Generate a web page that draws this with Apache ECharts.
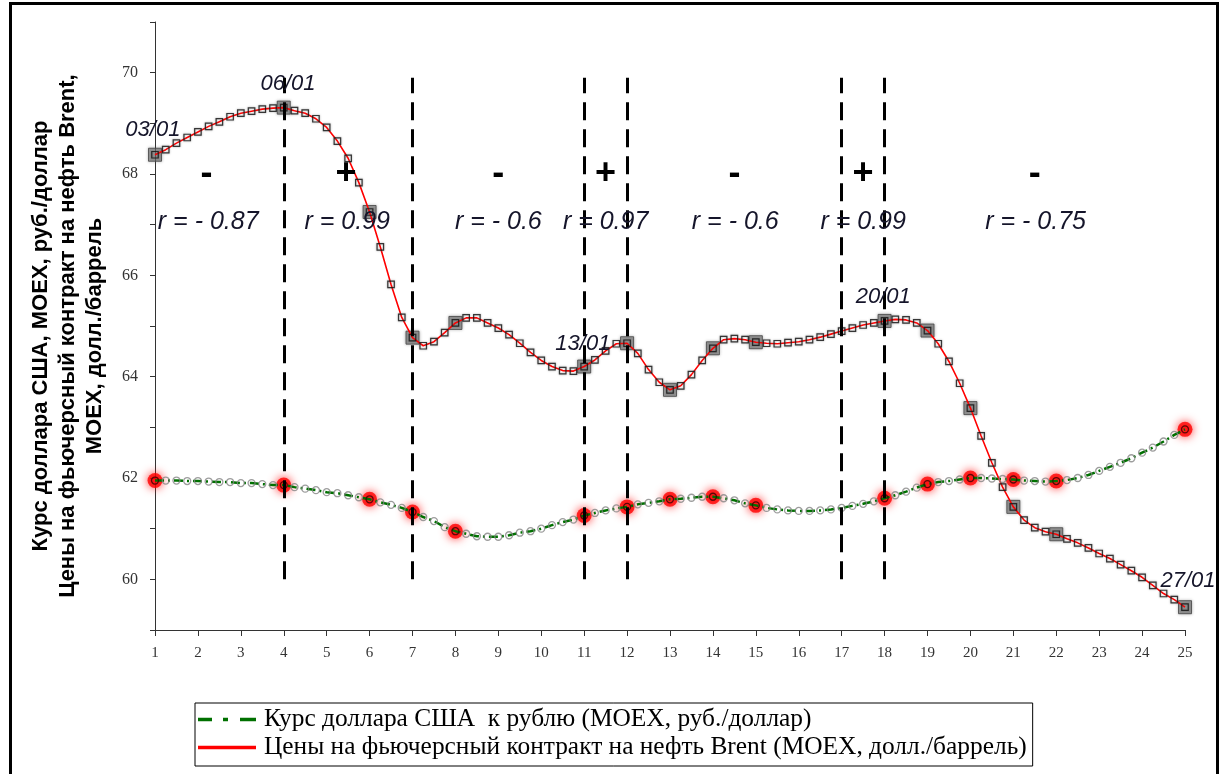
<!DOCTYPE html>
<html>
<head>
<meta charset="utf-8">
<script src="https://cdn.jsdelivr.net/npm/echarts@6/dist/echarts.min.js"></script>
<style>
html,body{margin:0;padding:0;background:#fff;}
#chart{width:1222px;height:774px;}
</style>
</head>
<body>
<div id="chart"></div>
<script>
// ---- data ----
// Brent futures price (MOEX, USD/barrel), sampled every quarter day from day 1 to day 25
const brentFine = [
  68.38, 68.48, 68.61, 68.72,   // 1
  68.83, 68.94, 69.03, 69.13,   // 2
  69.20, 69.24, 69.28, 69.30,   // 3
  69.31, 69.25, 69.20, 69.09,   // 4
  68.92, 68.65, 68.31, 67.83,   // 5
  67.25, 66.56, 65.82, 65.17,   // 6
  64.77, 64.61, 64.69, 64.87,   // 7
  65.06, 65.16, 65.16, 65.06,   // 8
  64.96, 64.83, 64.66, 64.48,   // 9
  64.32, 64.20, 64.12, 64.11,   // 10
  64.20, 64.33, 64.51, 64.65,   // 11
  64.66, 64.46, 64.14, 63.89,   // 12
  63.74, 63.82, 64.04, 64.32,   // 13
  64.56, 64.73, 64.75, 64.73,   // 14
  64.68, 64.66, 64.65, 64.67,   // 15
  64.69, 64.73, 64.78, 64.84,   // 16
  64.90, 64.96, 65.02, 65.06,   // 17
  65.10, 65.13, 65.12, 65.06,   // 18
  64.91, 64.65, 64.30, 63.87,   // 19
  63.38, 62.83, 62.30, 61.82,   // 20
  61.43, 61.17, 61.02, 60.94,   // 21
  60.89, 60.80, 60.72, 60.62,   // 22
  60.51, 60.41, 60.29, 60.17,   // 23
  60.04, 59.88, 59.72, 59.60,   // 24
  59.45                         // 25
];
// USD/RUB rate (MOEX, rub/USD), same sampling
const usdFine = [
  61.95, 61.95, 61.95, 61.94,   // 1
  61.94, 61.93, 61.92, 61.92,   // 2
  61.90, 61.90, 61.88, 61.86,   // 3
  61.86, 61.82, 61.79, 61.76,   // 4
  61.72, 61.70, 61.66, 61.62,   // 5
  61.58, 61.52, 61.47, 61.41,   // 6
  61.33, 61.23, 61.15, 61.03,   // 7
  60.95, 60.90, 60.85, 60.84,   // 8
  60.84, 60.87, 60.92, 60.95,   // 9
  61.00, 61.07, 61.13, 61.18,   // 10
  61.26, 61.31, 61.36, 61.40,   // 11
  61.43, 61.48, 61.51, 61.54,   // 12
  61.58, 61.59, 61.61, 61.63,   // 13
  61.63, 61.60, 61.56, 61.50,   // 14
  61.46, 61.41, 61.38, 61.36,   // 15
  61.35, 61.35, 61.36, 61.38,   // 16
  61.41, 61.45, 61.49, 61.54,   // 17
  61.60, 61.66, 61.73, 61.81,   // 18
  61.88, 61.92, 61.94, 61.97,   // 19
  62.00, 62.00, 61.99, 61.98,   // 20
  61.97, 61.95, 61.94, 61.93,   // 21
  61.94, 61.96, 62.00, 62.06,   // 22
  62.14, 62.22, 62.30, 62.39,   // 23
  62.50, 62.60, 62.72, 62.85,   // 24
  62.96                         // 25
];
const firstDay = 1;
const stepsPerDay = 4;
// trading days (large markers)
const tradingDays = [1, 4, 6, 7, 8, 11, 12, 13, 14, 15, 18, 19, 20, 21, 22, 25];
// vertical dashed separators
const splitDays = [4, 7, 11, 12, 17, 18];
const splitFrom = 60;
const splitTo = 69.9;
// sign and correlation annotations
const signText = ['-', '+', '-', '+', '-', '+', '-'];
const signDay = [2.2, 5.45, 9.0, 11.5, 14.5, 17.5, 21.5];
const signLevel = 68.0;
const rText = ['r = - 0.87', 'r = 0.99', 'r = - 0.6', 'r = 0.97', 'r = - 0.6', 'r = 0.99', 'r = - 0.75'];
const rDay = [2.24, 5.48, 9.0, 11.5, 14.52, 17.5, 21.52];
const rLevel = 67.05;
const dateText = ['03/01', '06/01', '13/01', '20/01', '27/01'];
const dateDay = [0.95, 4.1, 10.97, 17.97, 25.07];
const dateLevel = [68.87, 69.78, 64.65, 65.58, 59.96];
// axes
const xMin = 1, xMax = 25;
const yMin = 59, yMax = 71;
const nameUsd = 'Курс доллара США  к рублю (MOEX, руб./доллар)';
const nameBrent = 'Цены на фьючерсный контракт на нефть Brent (MOEX, долл./баррель)';
const yTitle = 'Курс доллара США, MOEX, руб./доллар\nЦены на фьючерсный контракт на нефть Brent,\nMOEX, долл./баррель';

// ---- build ----
const dayOf = i => firstDay + i / stepsPerDay;
const brentPts = brentFine.map((v, i) => [dayOf(i), v]);
const usdPts = usdFine.map((v, i) => [dayOf(i), v]);
const keyIdx = tradingDays.map(d => (d - firstDay) * stepsPerDay);
const brentKey = keyIdx.map(i => brentPts[i]);
const usdKey = keyIdx.map(i => usdPts[i]);
const keySet = new Set(keyIdx);

const textSeries = (xs, ys, texts, style) => ({
  type: 'scatter', silent: true, symbol: 'circle', symbolSize: 0, z: 20, clip: false,
  itemStyle: {color: '#000', opacity: 1},
  data: texts.map((t, i) => ({value: [xs[i], Array.isArray(ys) ? ys[i] : ys], label: {formatter: t}})),
  label: Object.assign({show: true, position: [0, 0], align: 'center', verticalAlign: 'middle',
    textBorderWidth: 0, opacity: 1}, style)
});

const chart = echarts.init(document.getElementById('chart'), null, {renderer: 'canvas'});
const option = {
  animation: false,
  backgroundColor: '#fff',
  grid: {left: 155, right: 37, top: 22, bottom: 144, containLabel: false},
  xAxis: {
    type: 'value', min: xMin, max: xMax, interval: 1,
    axisLine: {show: true, lineStyle: {color: '#333', width: 1}},
    axisTick: {show: true, length: 6, lineStyle: {color: '#333'}},
    axisLabel: {fontFamily: 'Liberation Serif', fontSize: 15, color: '#333', margin: 16},
    splitLine: {show: false}
  },
  yAxis: {
    type: 'value', min: yMin, max: yMax, interval: 1,
    axisLine: {show: true, lineStyle: {color: '#333', width: 1}},
    axisTick: {show: true, length: 5, lineStyle: {color: '#333'}},
    axisLabel: {fontFamily: 'Liberation Serif', fontSize: 16, color: '#333', margin: 17,
      formatter: v => (v % 2 === 0 ? String(v) : '')},
    splitLine: {show: false}
  },
  legend: {
    data: [
      {name: nameUsd, icon: 'path://M0,0h14v3.5h-14z M25,0h5v3.5h-5z M42,0h16v3.5h-16z'},
      {name: nameBrent, icon: 'path://M0,0h58v3.5h-58z'}
    ],
    orient: 'vertical', left: 195, top: 703,
    padding: [4, 6, 6, 3],
    itemWidth: 58, itemHeight: 3.5, itemGap: 3,
    borderColor: '#000', borderWidth: 1,
    textStyle: {fontFamily: 'Liberation Serif', fontSize: 25.4, lineHeight: 25, color: '#000', padding: [0, 0, 0, 3]},
    selectedMode: false
  },
  graphic: [
    {
      type: 'rect', shape: {x: 10.5, y: 3.5, width: 1207, height: 820},
      style: {fill: 'none', stroke: '#000', lineWidth: 3}, silent: true, z: 100
    },
    {
      type: 'text', x: 68, y: 336, rotation: Math.PI / 2, silent: true, z: 100,
      style: {text: yTitle, align: 'center', verticalAlign: 'middle', fill: '#000',
        font: 'bold 22px "Liberation Sans"', lineHeight: 27}
    }
  ],
  series: [
    {
      name: 'usdKeyBig', type: 'scatter', symbol: 'circle', symbolSize: 15, z: 2, silent: true,
      itemStyle: {color: '#ff0000', shadowBlur: 10, shadowColor: 'rgba(255,0,0,1)'},
      data: usdKey
    },
    {
      name: 'brentKeyBig', type: 'scatter', symbol: 'rect', symbolSize: 13, z: 2, silent: true,
      itemStyle: {color: 'rgba(110,110,110,0.75)', borderColor: '#444', borderWidth: 1,
        shadowBlur: 3, shadowColor: 'rgba(80,80,80,0.6)'},
      data: brentKey
    },
    {
      name: nameUsd, type: 'line', data: usdPts, showSymbol: false, symbol: 'none', z: 3,
      lineStyle: {color: '#007000', width: 2.5, type: [9, 4, 2, 4]},
      itemStyle: {color: '#007000'}
    },
    {
      name: nameBrent, type: 'line', data: brentPts, showSymbol: false, symbol: 'none', z: 3,
      lineStyle: {color: '#ff0000', width: 1.6},
      itemStyle: {color: '#ff0000'}
    },
    {
      name: 'usdSmall', type: 'scatter', symbol: 'circle', symbolSize: 7, z: 4, silent: true,
      itemStyle: {color: 'rgba(255,255,255,0)', borderColor: '#858585', borderWidth: 1.3},
      data: usdPts.map((p, i) => keySet.has(i)
        ? {value: p, itemStyle: {borderColor: '#3a0000'}} : {value: p})
    },
    {
      name: 'brentSmall', type: 'scatter', symbol: 'rect', symbolSize: 6.5, z: 4, silent: true,
      itemStyle: {color: 'rgba(255,255,255,0)', borderColor: '#111', borderWidth: 1.2,
        shadowBlur: 2, shadowColor: 'rgba(90,90,90,0.8)'},
      data: brentPts
    },
    {
      name: 'splits', type: 'line', data: [], z: 6, silent: true,
      markLine: {
        silent: true, symbol: ['none', 'none'], label: {show: false},
        lineStyle: {color: '#000', width: 3, type: [18, 9]},
        data: splitDays.map(d => [{coord: [d, splitFrom]}, {coord: [d, splitTo]}])
      }
    },
    textSeries(signDay, signLevel, signText,
      {fontFamily: 'Liberation Sans', fontWeight: 'bold', fontSize: 36, color: '#000'}),
    textSeries(rDay, rLevel, rText,
      {fontFamily: 'Liberation Sans', fontStyle: 'italic', fontSize: 25, color: '#15152a'}),
    textSeries(dateDay, dateLevel, dateText,
      {fontFamily: 'Liberation Sans', fontStyle: 'italic', fontSize: 22, color: '#15152a'})
  ]
};
chart.setOption(option);
</script>
</body>
</html>
